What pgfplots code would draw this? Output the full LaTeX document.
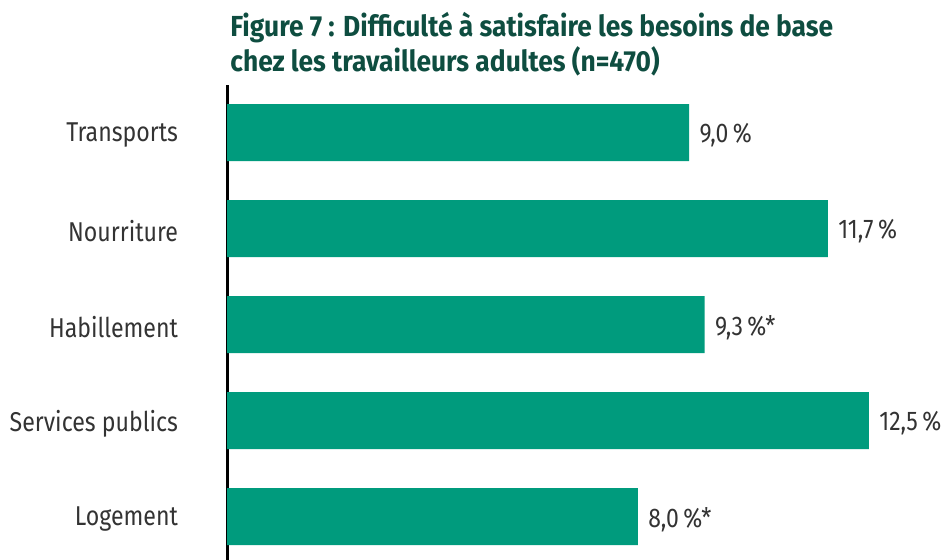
\documentclass[border=0pt]{standalone}
\usepackage{fontspec}
\setmainfont[FakeStretch=0.85]{Fira Sans}
\newfontfamily\titlefont[FakeStretch=0.91]{Fira Sans}
\usepackage{pgfplots}
\pgfplotsset{compat=1.18}
\definecolor{barc}{RGB}{0,155,125}
\definecolor{titlec}{RGB}{14,77,64}
\definecolor{txt}{RGB}{51,51,51}
\begin{document}
\begin{tikzpicture}
\useasboundingbox (0,0) rectangle (475.5pt,279.5pt);
\node[anchor=north west, align=left, font=\titlefont\bfseries\fontsize{14.5}{17.5}\selectfont, text=titlec, inner sep=0pt] at (115pt,273.5pt) {Figure 7 : Difficulté à satisfaire les besoins de base\\chez les travailleurs adultes (n=470)};
\begin{axis}[
  at={(113.5pt,-0.35pt)}, anchor=south west, scale only axis,
  width=359.5pt, height=237.6pt,
  xbar, bar width=28.5pt,
  xmin=0, xmax=14, ymin=-0.45, ymax=4.5,
  axis x line=none, axis y line=left,
  axis line style={-, line width=1.5pt, black},
  ytick={0,1,2,3,4},
  yticklabels={Logement, Services publics, Habillement, Nourriture, Transports},
  major tick length=0pt,
  yticklabel style={font=\fontsize{13.6}{15}\selectfont, text=txt, xshift=-21pt, yshift=-1.5pt},
  nodes near coords, point meta=explicit symbolic,
  nodes near coords style={anchor=west, font=\fontsize{13.5}{15}\selectfont, text=txt, inner sep=0pt, xshift=5pt, yshift=-1.5pt},
]
\addplot[fill=barc, draw=none] coordinates {
  (8.0,0) [8,0\,\%*]
  (12.5,1) [12,5\,\%]
  (9.3,2) [9,3\,\%*]
  (11.7,3) [11,7\,\%]
  (9.0,4) [9,0\,\%]
};
\end{axis}
\end{tikzpicture}
\end{document}
